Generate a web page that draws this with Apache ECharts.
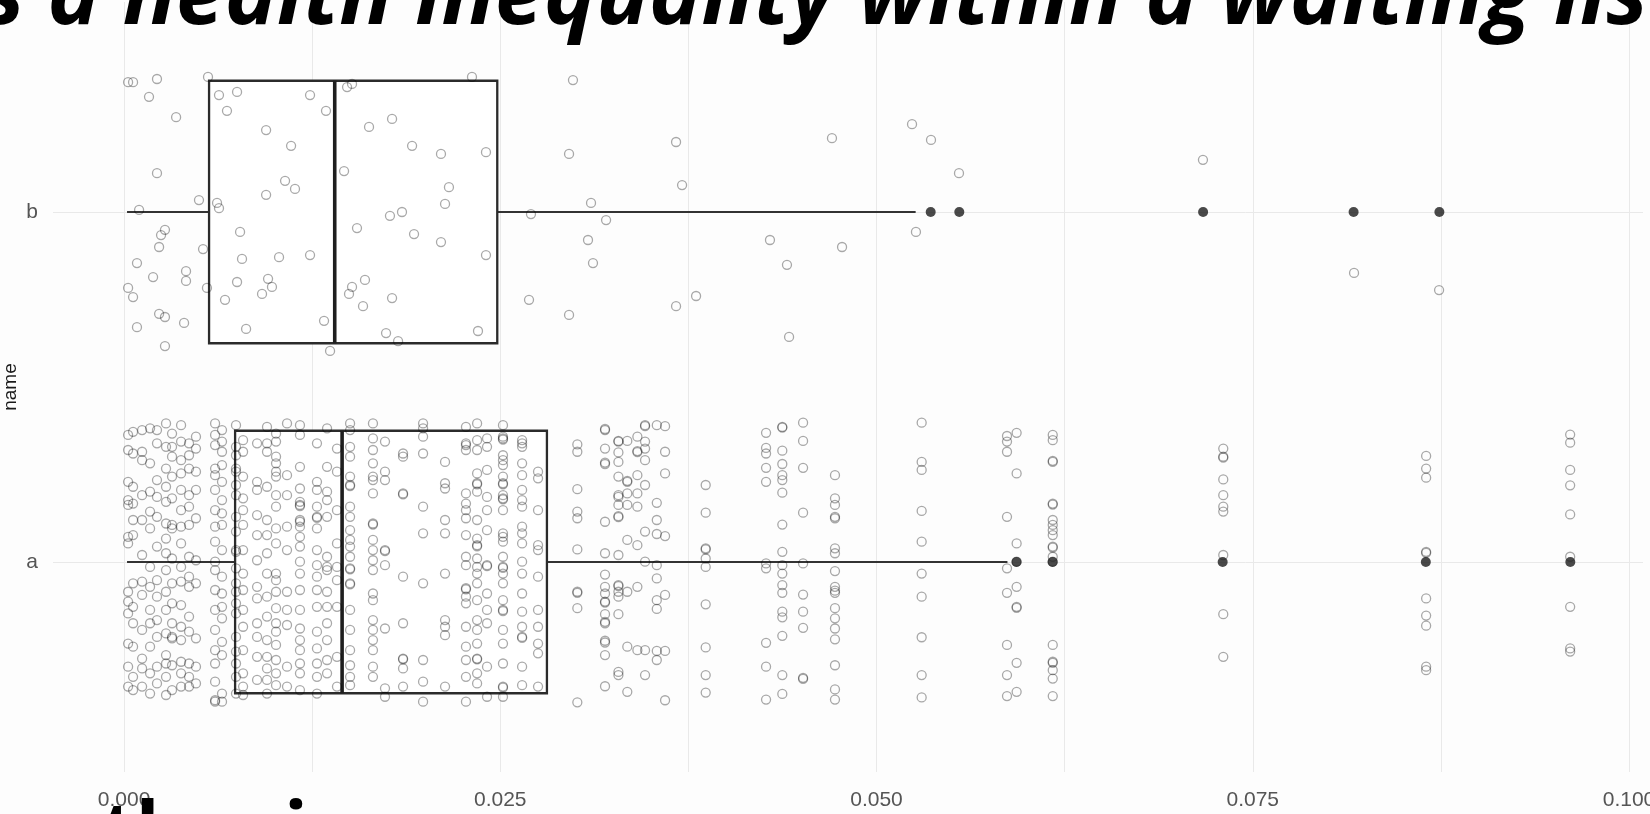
<!DOCTYPE html>
<html>
<head>
<meta charset="utf-8">
<script src="https://cdn.jsdelivr.net/npm/echarts@6/dist/echarts.min.js"></script>
<style>
  html, body { margin: 0; padding: 0; background: #fdfdfd; }
  #chart { width: 1650px; height: 814px; }
</style>
</head>
<body>
<div id="chart"></div>
<script>
// Groups on the vertical axis (a = 1, b = 2)
const categories = ['a', 'b'];
const axisTitle = 'name';

// Tick values on the horizontal axis (major + minor grid) and the labelled ones
const xGridValues = [0, 0.0125, 0.025, 0.0375, 0.05, 0.0625, 0.075, 0.0875, 0.1];
const xLabelValues = [0, 0.025, 0.05, 0.075, 0.1];

// Box summaries: [lower whisker, Q1, median, Q3, upper whisker]
const boxA = [0.0002, 0.00738, 0.01449, 0.0281, 0.0587];
const boxB = [0.0002, 0.00565, 0.0140, 0.0248, 0.0526];

// Points beyond the whiskers
const outliersA = [0.0593, 0.0617, 0.0730, 0.0865, 0.0961];
const outliersB = [0.0536, 0.0555, 0.0717, 0.0817, 0.0874];

// Group b observations: [value, vertical jitter]
const groupB = [
  [0.00027,0.371],[0.00060,0.371],[0.00219,0.380],[0.00166,0.329],[0.00346,0.271],[0.00219,0.111],
  [0.00100,0.006],[0.00272,-0.051],[0.00246,-0.066],[0.00233,-0.100],[0.00086,-0.146],[0.00412,-0.169],
  [0.00412,-0.197],[0.00193,-0.186],[0.00027,-0.217],[0.00060,-0.243],[0.00233,-0.291],[0.00272,-0.300],
  [0.00086,-0.329],[0.00399,-0.317],[0.00272,-0.383],[0.00558,0.386],[0.00498,0.034],[0.00525,-0.106],
  [0.00551,-0.217],[0.00631,0.334],[0.00751,0.343],[0.00684,0.289],[0.00618,0.026],[0.00631,0.011],
  [0.00944,0.234],[0.01110,0.189],[0.00944,0.049],[0.01070,0.089],[0.01136,0.066],[0.00771,-0.057],
  [0.00784,-0.134],[0.01030,-0.129],[0.01236,-0.123],[0.00751,-0.200],[0.00957,-0.191],[0.00983,-0.214],
  [0.00917,-0.234],[0.00671,-0.251],[0.00811,-0.334],[0.01329,-0.311],[0.01236,0.334],[0.01342,0.289],
  [0.01369,-0.397],[0.01482,0.357],[0.01515,0.366],[0.01462,0.117],[0.01548,-0.046],[0.01628,0.243],
  [0.01781,0.266],[0.01914,0.189],[0.02106,0.166],[0.02405,0.171],[0.02159,0.071],[0.02133,0.023],
  [0.01767,-0.011],[0.01847,0.000],[0.01927,-0.063],[0.02106,-0.086],[0.02405,-0.123],[0.01601,-0.194],
  [0.01515,-0.214],[0.01495,-0.234],[0.01588,-0.269],[0.01781,-0.246],[0.01741,-0.346],[0.01821,-0.369],
  [0.02352,-0.340],[0.02312,0.386],[0.02704,-0.006],[0.02691,-0.251],[0.02983,0.377],[0.02957,0.166],
  [0.03103,0.026],[0.03203,-0.023],[0.03083,-0.080],[0.03116,-0.146],[0.02957,-0.294],[0.03668,0.200],
  [0.03708,0.077],[0.03668,-0.269],[0.03801,-0.240],[0.04704,0.211],[0.04292,-0.080],[0.04771,-0.100],
  [0.04405,-0.151],[0.04419,-0.357],[0.05236,0.251],[0.05362,0.206],[0.05548,0.111],[0.05262,-0.057],
  [0.07169,0.149],[0.08173,-0.174],[0.08738,-0.223]
];

// Group a observations, grouped by value: [value, [vertical jitters]]
const groupA = [
  [0.00027,[0.363,0.320,0.229,0.177,0.163,0.072,0.053,-0.085,-0.113,-0.147,-0.233,-0.299,-0.356]],
  [0.00060,[0.372,0.310,0.215,0.167,0.120,0.077,-0.061,-0.128,-0.175,-0.242,-0.328,-0.366]],
  [0.00120,[0.377,0.315,0.291,0.191,0.120,0.020,-0.056,-0.094,-0.194,-0.276,-0.304,-0.356]],
  [0.00173,[0.382,0.282,0.201,0.144,0.096,-0.014,-0.071,-0.137,-0.175,-0.242,-0.318,-0.376]],
  [0.00219,[0.377,0.339,0.234,0.186,0.129,0.044,-0.052,-0.099,-0.166,-0.214,-0.299,-0.347]],
  [0.00279,[0.396,0.329,0.267,0.215,0.172,0.110,0.067,0.025,-0.023,-0.085,-0.137,-0.204,-0.266,-0.290,-0.328,-0.380]],
  [0.00319,[0.367,0.329,0.301,0.244,0.182,0.106,0.096,0.010,-0.061,-0.118,-0.175,-0.214,-0.218,-0.295,-0.366]],
  [0.00379,[0.391,0.344,0.291,0.253,0.206,0.148,0.101,0.053,-0.014,-0.056,-0.123,-0.185,-0.223,-0.285,-0.318,-0.356]],
  [0.00432,[0.339,0.305,0.267,0.191,0.158,0.106,0.015,-0.042,-0.071,-0.156,-0.199,-0.290,-0.328,-0.356]],
  [0.00478,[0.358,0.324,0.258,0.206,0.125,0.005,-0.061,-0.218,-0.299,-0.347]],
  [0.00605,[0.396,0.363,0.334,0.267,0.248,0.206,0.148,0.101,0.058,0.001,-0.023,-0.080,-0.137,-0.194,-0.252,-0.290,-0.342,-0.399,-0.395]],
  [0.00651,[0.377,0.344,0.315,0.277,0.229,0.177,0.139,0.106,0.034,-0.042,-0.090,-0.128,-0.161,-0.228,-0.266,-0.376,-0.399]],
  [0.00744,[0.391,0.329,0.305,0.267,0.258,0.220,0.191,0.129,0.087,0.034,0.029,-0.018,-0.061,-0.085,-0.118,-0.147,-0.214,-0.256,-0.290,-0.328,-0.376]],
  [0.00791,[0.348,0.315,0.244,0.182,0.148,0.106,0.034,-0.033,-0.080,-0.137,-0.185,-0.252,-0.318,-0.356,-0.380]],
  [0.00884,[0.339,0.229,0.206,0.134,0.077,0.005,-0.071,-0.104,-0.175,-0.214,-0.271,-0.337]],
  [0.00950,[0.386,0.339,0.315,0.215,0.120,0.077,0.025,-0.033,-0.099,-0.156,-0.223,-0.271,-0.304,-0.337,-0.376]],
  [0.01010,[0.367,0.344,0.301,0.282,0.258,0.244,0.191,0.158,0.096,0.053,-0.033,-0.052,-0.085,-0.132,-0.175,-0.199,-0.237,-0.280,-0.318,-0.352]],
  [0.01083,[0.396,0.248,0.191,0.101,0.034,-0.085,-0.137,-0.180,-0.299,-0.356]],
  [0.01169,[0.391,0.363,0.272,0.210,0.172,0.163,0.160,0.120,0.115,0.101,0.072,0.044,0.001,-0.033,-0.080,-0.137,-0.190,-0.223,-0.252,-0.290,-0.318,-0.366]],
  [0.01282,[0.339,0.229,0.206,0.158,0.129,0.126,0.096,0.034,-0.009,-0.042,-0.080,-0.128,-0.199,-0.247,-0.290,-0.328,-0.376]],
  [0.01349,[0.382,0.272,0.201,0.177,0.129,0.015,-0.014,-0.023,-0.085,-0.128,-0.175,-0.223,-0.280,-0.318]],
  [0.01415,[0.324,0.258,0.148,0.053,-0.014,-0.052,-0.128,-0.271,-0.356]],
  [0.01502,[0.396,0.377,0.329,0.301,0.244,0.220,0.217,0.158,0.129,0.091,0.063,0.044,0.015,-0.018,-0.021,-0.061,-0.064,-0.137,-0.194,-0.252,-0.295,-0.328,-0.352]],
  [0.01654,[0.396,0.353,0.320,0.282,0.244,0.234,0.196,0.110,0.107,0.063,0.034,0.005,-0.023,-0.090,-0.109,-0.166,-0.194,-0.223,-0.252,-0.299,-0.328]],
  [0.01734,[0.344,0.258,0.234,0.034,0.031,-0.009,-0.190,-0.361,-0.385]],
  [0.01854,[0.310,0.301,0.196,0.193,-0.042,-0.175,-0.276,-0.278,-0.304,-0.356]],
  [0.01987,[0.396,0.382,0.358,0.310,0.158,0.082,-0.061,-0.280,-0.342,-0.399]],
  [0.02133,[0.286,0.225,0.210,0.120,0.082,-0.033,-0.166,-0.185,-0.209,-0.356]],
  [0.02272,[0.386,0.339,0.334,0.320,0.196,0.167,0.148,0.125,0.077,0.015,-0.009,-0.075,-0.078,-0.099,-0.118,-0.185,-0.242,-0.280,-0.328,-0.399]],
  [0.02346,[0.396,0.348,0.320,0.253,0.225,0.222,0.201,0.120,0.067,0.048,0.045,0.010,-0.014,-0.033,-0.061,-0.109,-0.166,-0.194,-0.233,-0.276,-0.278,-0.318,-0.347]],
  [0.02412,[0.353,0.329,0.263,0.186,0.148,0.091,-0.009,-0.012,-0.090,-0.137,-0.175,-0.299,-0.385]],
  [0.02518,[0.391,0.358,0.353,0.350,0.305,0.291,0.277,0.244,0.225,0.222,0.191,0.182,0.179,0.148,0.082,0.072,0.058,0.015,-0.014,-0.017,-0.033,-0.061,-0.109,-0.137,-0.140,-0.194,-0.233,-0.290,-0.356,-0.359,-0.385]],
  [0.02645,[0.348,0.339,0.329,0.282,0.248,0.206,0.177,0.158,0.101,0.082,0.053,0.001,-0.033,-0.090,-0.142,-0.185,-0.214,-0.217,-0.299,-0.352]],
  [0.02751,[0.258,0.239,0.148,0.048,0.034,-0.042,-0.137,-0.185,-0.233,-0.261,-0.356]],
  [0.03012,[0.336,0.315,0.208,0.144,0.125,0.036,-0.085,-0.088,-0.132,-0.401]],
  [0.03196,[0.380,0.377,0.324,0.284,0.280,0.115,0.025,-0.036,-0.071,-0.090,-0.113,-0.116,-0.149,-0.171,-0.175,-0.225,-0.230,-0.266,-0.355]],
  [0.03285,[0.346,0.344,0.313,0.286,0.244,0.191,0.186,0.163,0.131,0.128,0.020,-0.066,-0.069,-0.085,-0.099,-0.149,-0.314,-0.323]],
  [0.03344,[0.346,0.232,0.229,0.196,0.163,0.063,-0.085,-0.242,-0.371]],
  [0.03411,[0.358,0.317,0.314,0.248,0.196,0.158,0.048,-0.071,-0.252]],
  [0.03462,[0.391,0.388,0.344,0.324,0.291,0.220,0.087,0.001,-0.252,-0.323]],
  [0.03540,[0.391,0.169,0.120,0.080,-0.009,-0.047,-0.109,-0.134,-0.254,-0.280]],
  [0.03595,[0.388,0.315,0.253,0.074,-0.094,-0.254,-0.395]],
  [0.03865,[0.220,0.141,0.039,0.036,0.010,-0.014,-0.121,-0.244,-0.323,-0.373]],
  [0.04266,[0.369,0.326,0.310,0.269,0.229,-0.004,-0.018,-0.231,-0.299,-0.393]],
  [0.04374,[0.386,0.384,0.318,0.280,0.248,0.234,0.198,0.107,0.029,-0.009,-0.033,-0.066,-0.088,-0.142,-0.158,-0.211,-0.323,-0.377]],
  [0.04512,[0.398,0.346,0.269,0.141,-0.004,-0.093,-0.142,-0.188,-0.331,-0.334]],
  [0.04724,[0.248,0.182,0.163,0.129,0.125,0.039,0.025,-0.026,-0.071,-0.082,-0.088,-0.132,-0.161,-0.190,-0.221,-0.295,-0.364,-0.393]],
  [0.05300,[0.398,0.286,0.263,0.146,0.058,-0.033,-0.099,-0.215,-0.323,-0.387]],
  [0.05867,[0.360,0.344,0.315,0.129,-0.018,-0.088,-0.237,-0.323,-0.383]],
  [0.05931,[0.369,0.253,0.053,0.001,-0.071,-0.128,-0.131,-0.288,-0.371]],
  [0.06171,[0.363,0.348,0.289,0.286,0.167,0.164,0.120,0.106,0.091,0.077,0.044,0.041,0.015,0.001,-0.237,-0.285,-0.288,-0.309,-0.333,-0.383]],
  [0.07304,[0.324,0.301,0.298,0.236,0.191,0.158,0.144,0.020,-0.149,-0.271]],
  [0.08652,[0.303,0.267,0.241,0.029,0.026,-0.104,-0.153,-0.182,-0.299,-0.309]],
  [0.09609,[0.364,0.341,0.263,0.219,0.136,0.015,-0.128,-0.247,-0.256]]
];

// Heading text around the chart
const headingTop = 's a health inequality within a waiting list';
const headingBottomLeft = 'th';
const headingBottomRight = 'i';

// ---- build series data ----
const pointsA = [];
groupA.forEach(([v, jitters]) => jitters.forEach(j => pointsA.push([v, 1 + j])));
const pointsB = groupB.map(([v, j]) => [v, 2 + j]);
const outlierPoints = outliersA.map(v => [v, 1]).concat(outliersB.map(v => [v, 2]));
const boxData = [[1].concat(boxA), [2].concat(boxB)];

const chart = echarts.init(document.getElementById('chart'), null, { renderer: 'canvas' });

const pointStyle = {
  color: 'rgba(0,0,0,0)',
  borderColor: 'rgba(0,0,0,0.42)',
  borderWidth: 1.3
};

const tickText = {
  color: '#555',
  fontSize: 21,
  fontFamily: 'Liberation Sans'
};

const headingFont = '"Open Sans", "DejaVu Sans", sans-serif';

chart.setOption({
  backgroundColor: '#fdfdfd',
  animation: false,
  grid: { left: 53, right: 7, top: 2, bottom: 42, containLabel: false, outerBoundsMode: 'none' },
  xAxis: {
    type: 'value',
    min: -0.00472,
    max: 0.10093,
    axisLine: { show: false },
    axisTick: { show: false, customValues: xGridValues },
    axisLabel: Object.assign({
      customValues: xLabelValues,
      formatter: v => v.toFixed(3),
      margin: 18
    }, tickText),
    splitLine: { show: true, lineStyle: { color: '#e9e9e9', width: 1 } }
  },
  yAxis: {
    type: 'value',
    min: 0.4,
    max: 2.6,
    name: axisTitle,
    nameLocation: 'middle',
    nameRotate: 90,
    nameGap: 33,
    nameMoveOverlap: false,
    nameTextStyle: { color: '#1a1a1a', fontSize: 19, fontFamily: 'Liberation Sans' },
    axisLine: { show: false },
    axisTick: { show: false, customValues: [1, 2] },
    axisLabel: Object.assign({
      customValues: [1, 2],
      formatter: v => categories[Math.round(v) - 1],
      margin: 15
    }, tickText),
    splitLine: { show: true, lineStyle: { color: '#e9e9e9', width: 1 } }
  },
  series: [
    {
      type: 'custom',
      name: 'box',
      silent: true,
      z: 2,
      encode: { x: [1, 2, 3, 4, 5], y: 0 },
      data: boxData,
      renderItem: function (params, api) {
        const cat = api.value(0);
        const lo = api.coord([api.value(1), cat]);
        const q1 = api.coord([api.value(2), cat]);
        const med = api.coord([api.value(3), cat]);
        const q3 = api.coord([api.value(4), cat]);
        const hi = api.coord([api.value(5), cat]);
        const top = api.coord([api.value(2), cat + 0.375])[1];
        const bottom = api.coord([api.value(2), cat - 0.375])[1];
        const whisker = { stroke: '#333', lineWidth: 1.8 };
        return {
          type: 'group',
          children: [
            { type: 'line', shape: { x1: lo[0], y1: lo[1], x2: q1[0], y2: q1[1] }, style: whisker },
            { type: 'line', shape: { x1: q3[0], y1: q3[1], x2: hi[0], y2: hi[1] }, style: whisker },
            { type: 'rect', shape: { x: q1[0], y: top, width: q3[0] - q1[0], height: bottom - top },
              style: { fill: '#ffffff', stroke: '#2b2b2b', lineWidth: 2.3 } },
            { type: 'line', shape: { x1: med[0], y1: top, x2: med[0], y2: bottom },
              style: { stroke: '#1e1e1e', lineWidth: 3.6 } }
          ]
        };
      }
    },
    {
      type: 'scatter',
      name: 'a',
      silent: true,
      z: 3,
      symbol: 'circle',
      symbolSize: 9,
      itemStyle: pointStyle,
      data: pointsA
    },
    {
      type: 'scatter',
      name: 'b',
      silent: true,
      z: 3,
      symbol: 'circle',
      symbolSize: 9,
      itemStyle: pointStyle,
      data: pointsB
    },
    {
      type: 'scatter',
      name: 'outliers',
      silent: true,
      z: 4,
      symbol: 'circle',
      symbolSize: 10,
      itemStyle: { color: '#1c1c1c' },
      data: outlierPoints
    }
  ],
  graphic: [
    {
      type: 'text',
      x: -17,
      y: -1,
      z: 100,
      style: {
        text: headingTop,
        fill: '#000',
        fontSize: 88,
        fontWeight: 'bold',
        fontStyle: 'italic',
        fontFamily: headingFont,
        textVerticalAlign: 'middle'
      }
    },
    {
      type: 'text',
      x: 102,
      y: 836,
      z: 100,
      style: {
        text: headingBottomLeft,
        fill: '#000',
        fontSize: 78,
        fontWeight: 'bold',
        fontFamily: headingFont,
        textVerticalAlign: 'middle'
      }
    },
    {
      type: 'text',
      x: 284,
      y: 836,
      z: 100,
      style: {
        text: headingBottomRight,
        fill: '#000',
        fontSize: 78,
        fontWeight: 'bold',
        fontFamily: headingFont,
        textVerticalAlign: 'middle'
      }
    }
  ]
});
</script>
</body>
</html>
